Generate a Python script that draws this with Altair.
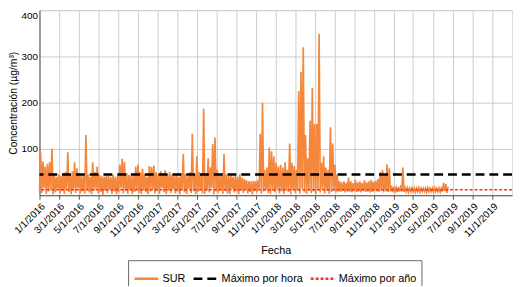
import altair as alt
import pandas as pd

# Weekly peak (hi) and trough (lo) readings of the SUR series, from 1/1/2016
hi = [93, 73, 62, 68, 72, 101, 45, 40, 45, 42,
      48, 50, 93, 45, 52, 71, 58, 48, 44, 42,
      130, 45, 40, 71, 50, 62, 44, 42, 40, 44,
      42, 40, 44, 40, 42, 66, 79, 72, 48, 44,
      45, 42, 62, 66, 50, 57, 45, 40, 63, 61,
      64, 50, 46, 52, 48, 54, 46, 50, 44, 42,
      45, 40, 48, 89, 45, 42, 50, 133, 45, 84,
      50, 45, 187, 48, 80, 60, 110, 125, 55, 45,
      48, 89, 45, 42, 44, 40, 42, 40, 45, 38,
      35, 32, 30, 30, 31, 30, 32, 133, 200, 55,
      60, 103, 95, 84, 70, 62, 66, 60, 71, 55,
      112, 70, 63, 55, 225, 267, 320, 130, 80, 161,
      232, 154, 154, 349, 70, 84, 60, 55, 147, 112,
      66, 45, 30, 28, 30, 27, 38, 30, 26, 34,
      28, 30, 26, 32, 28, 30, 33, 29, 31, 35,
      50, 55, 45, 67, 58, 20, 18, 17, 18, 17,
      60, 16, 16, 15, 16, 15, 15, 16, 15, 15,
      15, 16, 15, 15, 16, 15, 15, 15, 27, 24, 18]
lo = [10, 5, 15, 3, 8, 12, 2, 6, 14, 4,
      9, 3, 12, 7, 2, 10, 5, 15, 4, 8,
      3, 11, 6, 2, 9, 14, 4, 7, 1, 10,
      5, 12, 3, 8, 2, 6, 15, 4, 9, 3,
      11, 2, 7, 13, 5, 3, 10, 6, 2, 8,
      12, 4, 9, 3, 15, 6, 2, 10, 5, 13,
      4, 8, 2, 11, 6, 3, 14, 5, 9, 2,
      7, 12, 4, 3, 10, 6, 15, 2, 8, 5,
      11, 3, 9, 4, 2, 13, 6, 8, 3, 10,
      5, 12, 4, 7, 2, 9, 6, 14, 3, 8,
      11, 5, 2, 9, 6, 13, 4, 8, 3, 10,
      7, 2, 12, 5, 9, 4, 14, 6, 3, 11,
      5, 8, 2, 10, 6, 13, 4, 9, 3, 7,
      10, 6, 8, 7, 9, 6, 8, 7, 6, 9,
      7, 8, 6, 9, 7, 8, 6, 7, 9, 8,
      7, 9, 6, 8, 7, 8, 7, 8, 7, 8,
      8, 7, 8, 7, 8, 8, 7, 8, 7, 8,
      8, 7, 8, 8, 7, 8, 8, 7, 8, 9, 5]

series_names = ["SUR", "Máximo por hora", "Máximo por año"]
series_colors = ["#F4873B", "#000000", "#FF2E2E"]
limit_values = [45, 12]
x_ticks = ["2016-01-01", "2016-03-01", "2016-05-01", "2016-07-01", "2016-09-01", "2016-11-01",
           "2017-01-01", "2017-03-01", "2017-05-01", "2017-07-01", "2017-09-01", "2017-11-01",
           "2018-01-01", "2018-03-01", "2018-05-01", "2018-07-01", "2018-09-01", "2018-11-01",
           "2019-01-01", "2019-03-01", "2019-05-01", "2019-07-01", "2019-09-01", "2019-11-01"]
y_ticks = [0, 50, 100, 150, 200, 250, 300, 350, 400]

start = pd.Timestamp("2016-01-01")
rows = []
for w, (h, l) in enumerate(zip(hi, lo)):
    rows.append({"fecha": (start + pd.Timedelta(days=7 * w)).strftime("%Y-%m-%dT%H:%M:%S"), "valor": l, "serie": "SUR"})
    rows.append({"fecha": (start + pd.Timedelta(days=7 * w + 3.5)).strftime("%Y-%m-%dT%H:%M:%S"), "valor": h, "serie": "SUR"})
df = pd.DataFrame(rows)
lim = pd.DataFrame({"serie": series_names[1:], "valor": limit_values})

def dt(s):
    y, m, d = [int(p) for p in s.split("-")]
    return alt.DateTime(year=y, month=m, date=d)

FONT = "Liberation Sans"
W, H = 480, 188
legend = alt.Legend(title=None, orient="none", legendX=90, legendY=254, direction="horizontal",
                    symbolType="stroke", strokeColor="#666", fillColor="white", padding=5,
                    symbolStrokeWidth=2.5, symbolSize=576, labelFontSize=11, labelFont=FONT,
                    columnPadding=2, labelOffset=3, labelColor="#000")
color = alt.Color("serie:N", scale=alt.Scale(domain=series_names, range=series_colors), legend=legend)
dash = alt.StrokeDash("serie:N", scale=alt.Scale(domain=series_names, range=[[1, 0], [9, 5], [3, 2]]), legend=legend)

x = alt.X("fecha:T", title="Fecha",
          scale=alt.Scale(domain=[dt("2016-01-01"), dt("2020-01-01")]),
          axis=alt.Axis(values=[dt(s) for s in x_ticks], format="%-m/%-d/%Y", labelAngle=-45,
                        labelAlign="right", labelBaseline="top", labelFontSize=10, labelFont=FONT,
                        titleFont=FONT, titleFontSize=11, titleFontWeight="normal", labelColor="#000",
                        titleColor="#000", gridColor="#cccccc", domainColor="#555", tickColor="#555",
                        tickSize=4, titlePadding=6, labelOverlap=False, labelPadding=2))
y = alt.Y("valor:Q", title="Concentración (µg/m³)",
          scale=alt.Scale(domain=[0, 400], nice=False),
          axis=alt.Axis(values=y_ticks, labelExpr="datum.value == 0 ? '' : datum.label",
                        labelFontSize=10, labelFont=FONT, titleFont=FONT, titleFontSize=10.5,
                        titleFontWeight="normal", labelColor="#000", titleColor="#000",
                        gridColor="#cccccc", domainColor="#555", ticks=False, labelPadding=2,
                        labelFlush=True, labelFlushOffset=0,
                        titleX=-26, titleY=H / 2, titleAngle=270, titleAlign="center",
                        titleBaseline="middle"))

line = alt.Chart(df).mark_line(strokeWidth=1.7, strokeJoin="miter").encode(x=x, y=y, color=color, strokeDash=dash)
hora = alt.Chart(lim).transform_filter(alt.datum.serie == series_names[1]).mark_rule(strokeWidth=2.5).encode(
    y=alt.Y("valor:Q"), color=color, strokeDash=dash)
anio = alt.Chart(lim).transform_filter(alt.datum.serie == series_names[2]).mark_rule(strokeWidth=1.5).encode(
    y=alt.Y("valor:Q"), color=color, strokeDash=dash)

chart = alt.layer(line, hora, anio).properties(
    width=W, height=H, autosize="none",
    padding={"left": 32, "top": 0, "right": 2, "bottom": 90},
).configure_view(stroke="#666", strokeWidth=1).configure(background="white")

chart.save("out.html", embed_options={"renderer": "svg", "actions": False})
